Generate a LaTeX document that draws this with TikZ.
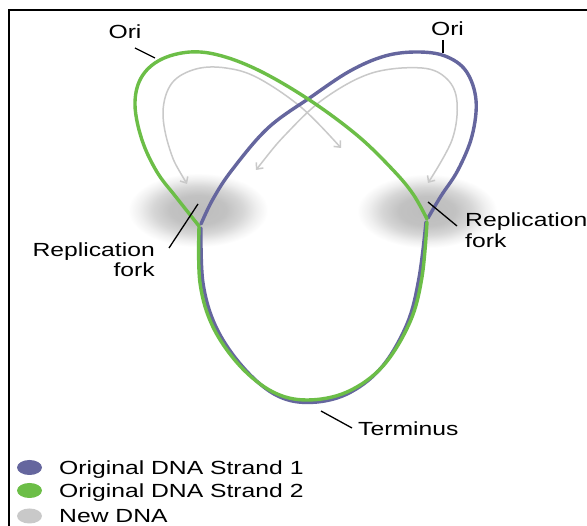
\documentclass[tikz,border=0pt]{standalone}
\usepackage{fontspec}
\newfontfamily\lab[FakeStretch=1.3]{Liberation Sans}
\usetikzlibrary{arrows.meta,shapes.geometric}
\definecolor{strandA}{HTML}{65669E}
\definecolor{strandB}{HTML}{6CBE47}
\definecolor{newdna}{HTML}{C9C9C9}
% soft grey halo around each replication fork
\pgfdeclareradialshading{forkglow}{\pgfpoint{0bp}{0bp}}{%
  color(0bp)=(black!26); color(10bp)=(black!24); color(16bp)=(black!16);
  color(21bp)=(black!6); color(25bp)=(white); color(50bp)=(white)}
\begin{document}
\begin{tikzpicture}[x=1pt,y=-1pt,
  strand/.style={line width=3.4pt, line join=round, line cap=round},
  newstrand/.style={draw=newdna, line width=1.5pt,
    {Straight Barb[length=5pt,width=9pt]}-{Straight Barb[length=5pt,width=9pt]}},
  leader/.style={draw=black, line width=1.3pt},
  txt/.style={inner sep=0pt, font=\lab\fontsize{19}{22}\selectfont},
  key/.style={ellipse, minimum width=25pt, minimum height=15pt, inner sep=0pt}]
\useasboundingbox (0,0) rectangle (587,526);
\fill[white] (0,0) rectangle (587,526);

% frame
\draw[line width=2.4pt] (9,530) -- (9,10) -- (592,10);

% halos
\shade[shading=forkglow] (198,210) ellipse [x radius=70, y radius=37];
\shade[shading=forkglow] (427,211) ellipse [x radius=70, y radius=37];

% newly synthesised DNA
\draw[newstrand] plot[smooth, tension=0.6] coordinates
  {(187,184) (170,150) (163,112) (172,83) (196,69) (226,68) (258,78) (302,108) (341,148)};
\draw[newstrand] plot[smooth, tension=0.6] coordinates
  {(256,170) (288,132) (325,98) (372,73) (422,68) (447,79) (457,102) (452,140) (428,183)};

% original strand 1
\draw[strand, strandA] plot[smooth, tension=0.6] coordinates
  {(201,224) (213,199) (232,170) (268,128) (311,97) (350,71) (385,56) (417,52) (445,56) (466,71) (476,100) (472,136) (458,170) (441,196) (428,218)};
\draw[strand, strandA] plot[smooth, tension=0.6] coordinates
  {(201,228) (203,283) (216,327) (242,366) (274,394) (307,402.5) (346,394.5) (381,368) (407,324) (419,278) (426,222)};

% original strand 2
\draw[strand, strandB] plot[smooth, tension=0.6] coordinates
  {(199,227) (200,283) (213,327) (240,366) (273,392) (307,400) (347,392) (383,366) (410,322) (422,277) (427,222)};
\draw[strand, strandB] plot[smooth, tension=0.6] coordinates
  {(199,226) (176,197) (157,172) (142,140) (135,105) (141,78) (160,60) (190,52) (222,56) (262,72) (311,101) (358,136) (393,170) (413,194) (427,219)};

% labels
\node[txt, anchor=base] (oriL) at (125,39) {Ori};
\node[txt, anchor=base] (oriR) at (447.5,35.5) {Ori};
\node[txt, anchor=base east] (forkL1) at (155,256.5) {Replication};
\node[txt, anchor=base east] (forkL2) at (155,277) {fork};
\node[txt, anchor=base west] (forkR1) at (465,227) {Replication};
\node[txt, anchor=base west] (forkR2) at (465,247.5) {fork};
\node[txt, anchor=base west] (term) at (358,435.5) {Terminus};

% leader lines
\coordinate (oriLa) at (135,48);  \coordinate (oriLb) at (155,58);
\coordinate (oriRa) at (443,40);  \coordinate (oriRb) at (443,53);
\coordinate (fkLa) at (198,204);  \coordinate (fkLb) at (169,248);
\coordinate (fkRa) at (428,202);  \coordinate (fkRb) at (457,226);
\coordinate (tmA) at (321,411);   \coordinate (tmB) at (352,428);
\draw[leader] (oriLa) -- (oriLb);
\draw[leader] (oriRa) -- (oriRb);
\draw[leader] (fkLa) -- (fkLb);
\draw[leader] (fkRa) -- (fkRb);
\draw[leader] (tmA) -- (tmB);

% key
\node[key, fill=strandA] (k1) at (29.5,467.5) {};
\node[key, fill=strandB] (k2) at (29.5,490.5) {};
\node[key, fill=newdna] (k3) at (29.5,516) {};
\node[txt, anchor=base west] (t1) at (59,474.5) {Original DNA Strand 1};
\node[txt, anchor=base west] (t2) at (59,498) {Original DNA Strand 2};
\node[txt, anchor=base west] (t3) at (59,523) {New DNA};
\end{tikzpicture}
\end{document}
